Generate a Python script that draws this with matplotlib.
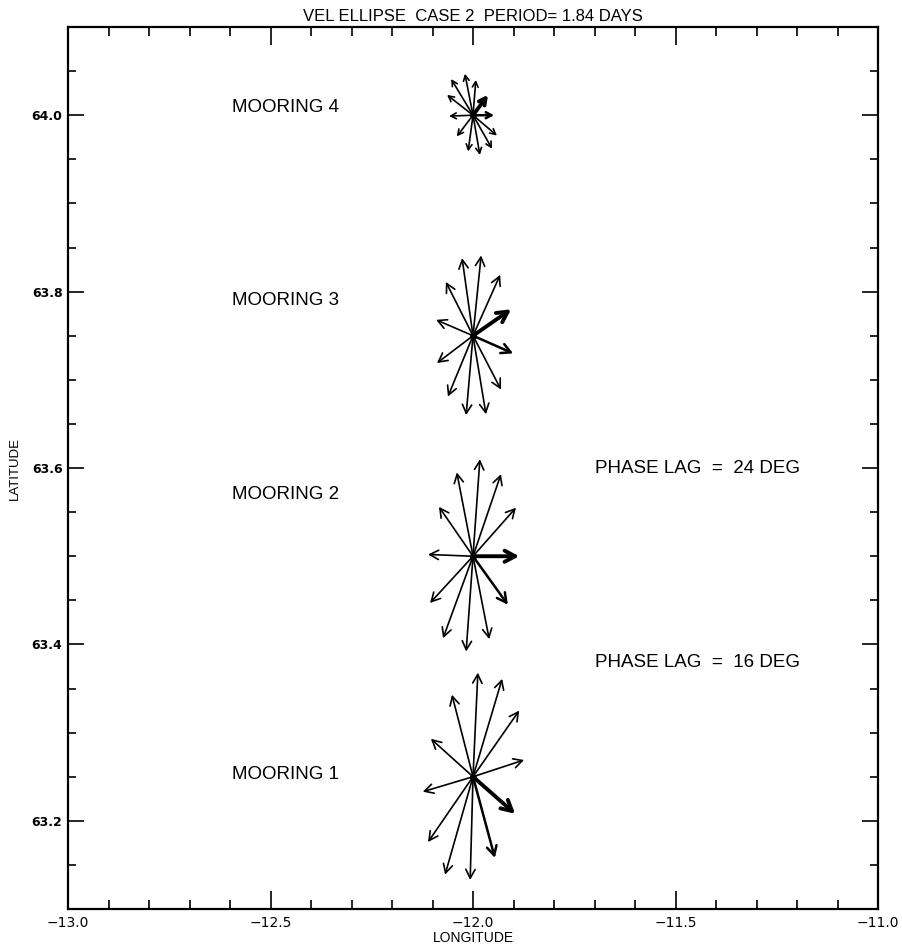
#!/usr/bin/env python

# Current ellipse arrows at four moorings (12 phases each)

import matplotlib
matplotlib.use('Agg')
import numpy as np
import matplotlib.pyplot as plt

title = 'VEL ELLIPSE  CASE 2  PERIOD= 1.84 DAYS'

mooring_names = ['MOORING 1', 'MOORING 2', 'MOORING 3', 'MOORING 4']
mooring_lon = [-12.0, -12.0, -12.0, -12.0]
mooring_lat = [63.25, 63.5, 63.75, 64.0]
label_lon = -12.595
label_lat = [63.253, 63.57, 63.79, 64.009]

# arrow offsets (deg lon, deg lat), first entry = phase 0
du = [
    [0.104, 0.054, -0.007, -0.069, -0.111, -0.124, -0.104, -0.052, 0.012, 0.072, 0.114, 0.126],
    [0.114, 0.086, 0.040, -0.017, -0.074, -0.106, -0.111, -0.084, -0.040, 0.017, 0.069, 0.106],
    [0.094, 0.099, 0.069, 0.032, -0.017, -0.062, -0.089, -0.091, -0.067, -0.027, 0.020, 0.067],
    [0.037, 0.052, 0.059, 0.047, 0.017, -0.012, -0.040, -0.059, -0.064, -0.054, -0.020, 0.007],
]
dv = [
    [-0.042, -0.092, -0.117, -0.111, -0.074, -0.017, 0.043, 0.093, 0.118, 0.111, 0.075, 0.019],
    [0.000, -0.055, -0.094, -0.108, -0.093, -0.053, 0.002, 0.056, 0.095, 0.110, 0.093, 0.055],
    [0.030, -0.020, -0.061, -0.089, -0.090, -0.069, -0.031, 0.018, 0.061, 0.088, 0.091, 0.069],
    [0.023, 0.000, -0.023, -0.038, -0.045, -0.041, -0.024, -0.001, 0.023, 0.041, 0.047, 0.040],
]

phase_texts = ['PHASE LAG  =  24 DEG', 'PHASE LAG  =  16 DEG']
phase_lon = [-11.70, -11.70]
phase_lat = [63.60, 63.38]

xticks = [-13.0, -12.5, -12.0, -11.5, -11.0]
xticklabels = ['\u221213.0', '\u221212.5', '\u221212.0', '\u221211.5', '\u221211.0']
yticks = [63.2, 63.4, 63.6, 63.8, 64.0]
yticklabels = ['63.2', '63.4', '63.6', '63.8', '64.0']

fig = plt.figure(figsize=(9.02, 9.48), dpi=100)
ax = fig.add_axes([0.0754, 0.0411, 0.898, 0.9304])

plain = ['Liberation Sans', 'DejaVu Sans']

for i in range(len(mooring_names)):
    x0, y0 = mooring_lon[i], mooring_lat[i]
    head = 6.5 if i == 3 else 10.5
    for k in range(len(du[i])):
        if k == 0:
            lw, hs = 2.8, 1.2
        elif k == 1:
            lw, hs = 1.8, 1.05
        else:
            lw, hs = 1.2, 1.0
        ax.annotate('', xy=(x0 + du[i][k], y0 + dv[i][k]), xytext=(x0, y0),
                    arrowprops=dict(arrowstyle='->,head_length=0.6,head_width=0.32',
                                    lw=lw, color='black', shrinkA=0, shrinkB=0,
                                    mutation_scale=head * hs))
    ax.plot(x0, y0, 'o', ms=4, color='black')
    ax.text(label_lon, label_lat[i], mooring_names[i], fontsize=13.5, family=plain,
            ha='left', va='center')

for t, x, y in zip(phase_texts, phase_lon, phase_lat):
    ax.text(x, y, t, fontsize=13.5, family=plain, ha='left', va='center')

ax.set_xlim(-13.0, -11.0)
ax.set_ylim(63.1, 64.1)
ax.set_xticks(xticks)
ax.set_xticklabels(xticklabels)
ax.set_xticks(np.arange(-12.9, -11.0, 0.1), minor=True)
ax.set_yticks(yticks)
ax.set_yticklabels(yticklabels, fontweight='bold')
ax.set_yticks(np.arange(63.15, 64.1, 0.05), minor=True)
ax.tick_params(which='both', direction='in', top=True, right=True, width=1.2)
ax.tick_params(axis='x', which='major', length=13)
ax.tick_params(axis='x', which='minor', length=6.5)
ax.tick_params(axis='y', which='major', length=11.5)
ax.tick_params(axis='y', which='minor', length=6)
ax.tick_params(axis='x', labelsize=10, pad=5)
ax.tick_params(axis='y', labelsize=9, pad=4)
for s in ax.spines.values():
    s.set_linewidth(1.6)

ax.set_xlabel('LONGITUDE', fontsize=10, family=plain, labelpad=1)
ax.set_ylabel('LATITUDE', fontsize=9.5, family=plain, labelpad=8)
ax.set_title(title, fontsize=12, family=plain, pad=4)

plt.savefig('out.png', dpi=100)
